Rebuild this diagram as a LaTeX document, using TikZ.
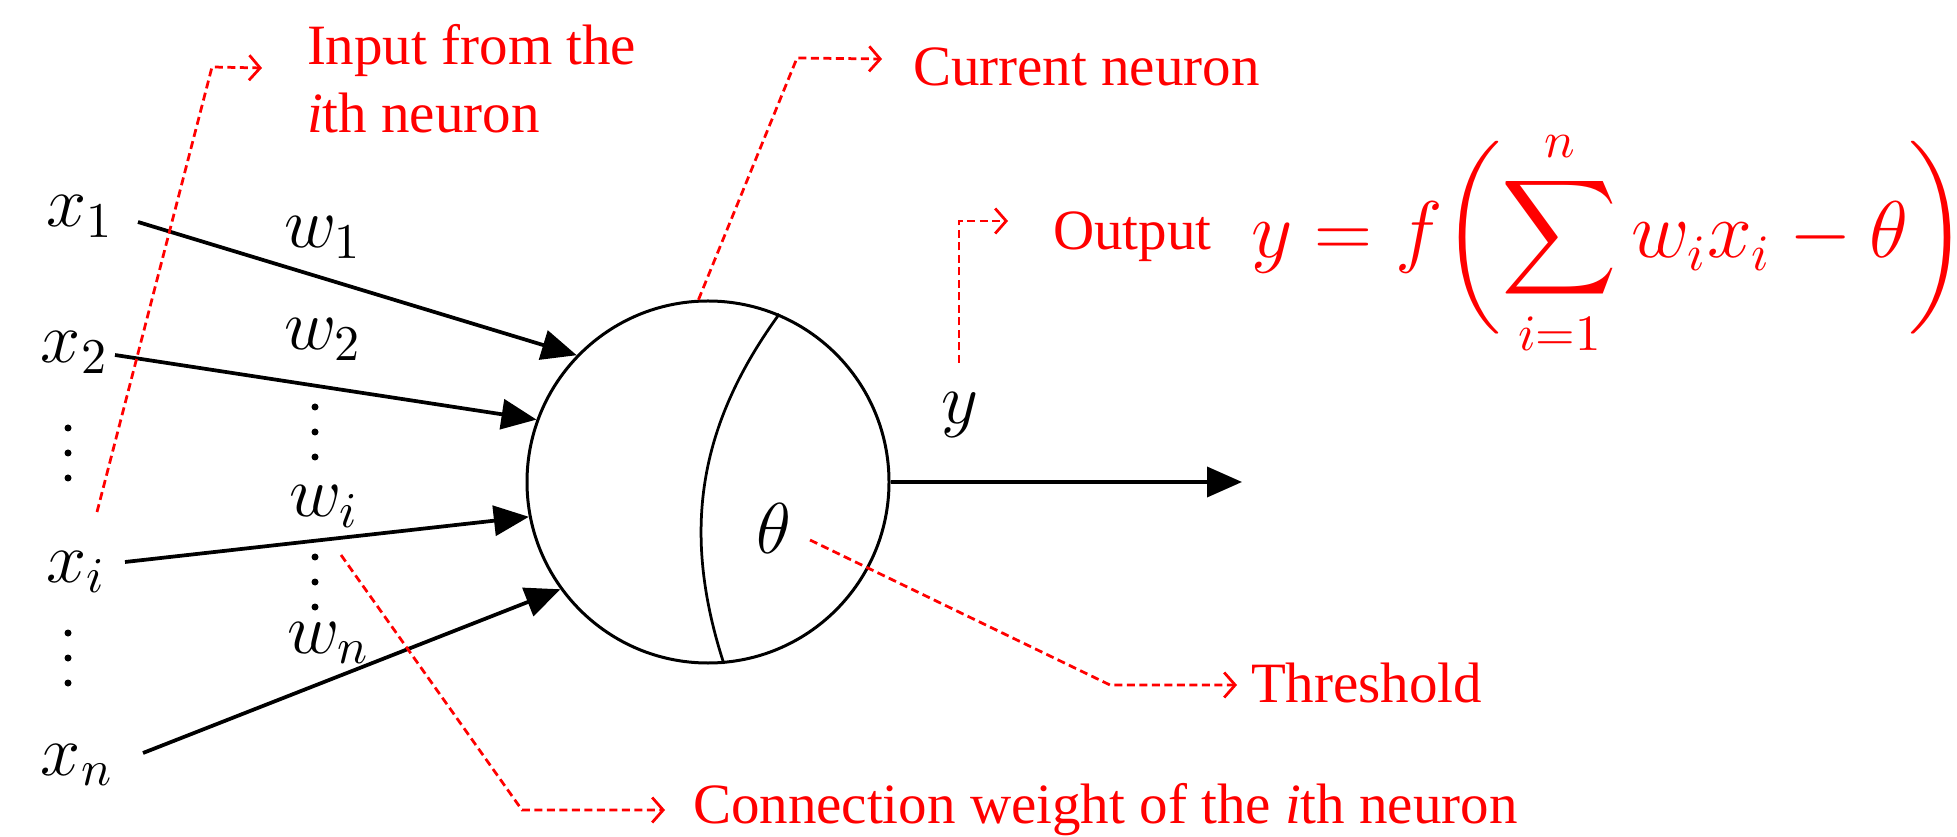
\documentclass[tikz,border=0pt]{standalone}
\usepackage{amsmath}
\usepackage{exscale}
\usepackage{fontspec}
\newfontfamily\notefont{Liberation Serif}
\usetikzlibrary{arrows.meta, positioning}

\begin{document}
\begin{tikzpicture}[
    x=0.2pt, y=-0.2pt,
    lbl/.style={inner sep=0pt, anchor=base west, font=\fontsize{14}{17}\selectfont},
    notetext/.style={red, inner sep=0pt, anchor=base west, align=left,
                     font=\notefont\fontsize{11.4}{13.6}\selectfont},
    cell/.style={draw, circle, line width=0.6pt, minimum size=72.4pt, inner sep=0pt},
    arr/.style={-{Triangle[length=7pt,width=6pt]}, line width=0.75pt},
    guide/.style={red, line width=0.55pt, dash pattern=on 1.6pt off 0.9pt,
                  -{Straight Barb[length=2.2pt,width=5pt]}},
]
\useasboundingbox (0,0) rectangle (1957,837);

% neuron
\node[cell] (neuron) at (708,482) {};
\draw[line width=0.55pt] (neuron.67) to[bend right=27] (neuron.-85);
\node[lbl] (theta) at (755,553) {$\theta$};

% inputs and weights
\node[lbl] (x1) at (45,227) {$x_1$};
\node[lbl] (x2) at (40,363) {$x_2$};
\node[lbl] (xi) at (45,582) {$x_i$};
\node[lbl] (xn) at (40,775) {$x_n$};
\node[lbl] (w1) at (283,248) {$w_1$};
\node[lbl] (w2) at (283,350) {$w_2$};
\node[lbl] (wi) at (288,517) {$w_i$};
\node[lbl] (wn) at (286,653) {$w_n$};
\foreach \yy in {428,453,478,633,658,683} \fill (68,\yy) circle (0.7pt);
\foreach \yy in {407,432,457,557,582,607} \fill (315,\yy) circle (0.7pt);

\coordinate (x1s) at (138,222);
\coordinate (x2s) at (115,355);
\coordinate (xis) at (125,562);
\coordinate (xns) at (143,753);
\draw[arr] (x1s) -- (neuron.136);
\draw[arr] (x2s) -- (neuron.160);
\draw[arr] (xis) -- (neuron.191);
\draw[arr] (xns) -- (neuron.216);

% output
\coordinate (yEnd) at (1242,482);
\draw[arr] (neuron.east) -- (yEnd);
\node[lbl] (ylbl) at (940,424) {$y$};

% red notes
\coordinate (inFoot) at (97,512);
\coordinate (inBend) at (212,67);
\coordinate (inTip) at (262,68);
\draw[guide] (inFoot) -- (inBend) -- (inTip);
\node[notetext, anchor=north west] (inText) at (306,23) {Input from the\\\textit{i}th neuron};

\coordinate (curBend) at (797,58);
\coordinate (curTip) at (882,59);
\draw[guide] (neuron.93) -- (curBend) -- (curTip);
\node[notetext] (curText) at (912,86) {Current neuron};

\coordinate (outFoot) at (959,363);
\coordinate (outBend) at (959,221);
\coordinate (outTip) at (1008,221);
\draw[guide] (outFoot) -- (outBend) -- (outTip);
\node[notetext] (outText) at (1052,250) {Output};
\node[red, inner sep=0pt, font=\fontsize{16}{19}\selectfont,
      right=7.6pt of outText.base east, anchor=base west, yshift=-1.6pt] (formula)
      {\scalebox{0.93}{$\displaystyle y = f\biggl(\sum_{i=1}^{n} w_i x_i - \theta\biggr)$}};

\coordinate (thFoot) at (810,540);
\coordinate (thBend) at (1110,685);
\coordinate (thTip) at (1237,685);
\draw[guide] (thFoot) -- (thBend) -- (thTip);
\node[notetext] (thText) at (1250,702) {Threshold};

\coordinate (wFoot) at (341,555);
\coordinate (wBend) at (522,810);
\coordinate (wTip) at (665,810);
\draw[guide] (wFoot) -- (wBend) -- (wTip);
\node[notetext] (wText) at (692,823) {Connection weight of the \textit{i}th neuron};
\end{tikzpicture}
\end{document}
